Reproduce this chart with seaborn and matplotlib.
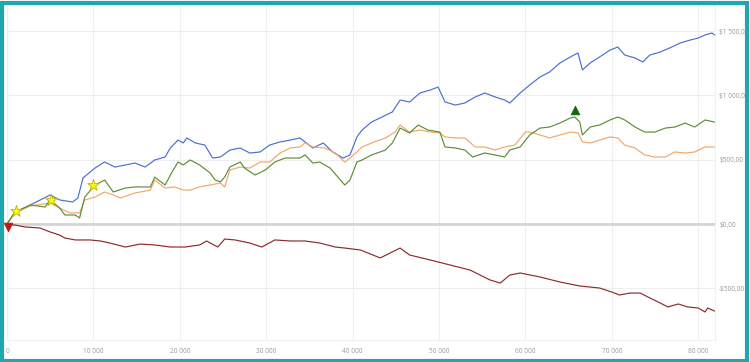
import matplotlib
matplotlib.use("Agg")
import matplotlib.pyplot as plt
import seaborn as sns
import pandas as pd
from matplotlib.patches import Rectangle
from matplotlib.ticker import FuncFormatter

# ---------------- data ----------------
blue_x = [0, 900, 2700, 5000, 6100, 7600, 8200, 8800, 10200, 11300, 12500, 13700, 14800, 16000,
          17100, 18300, 18900, 19800, 20400, 20800, 21800, 22900, 23800, 24700, 25800, 27000,
          28100, 29300, 30400, 31600, 32800, 33900, 34500, 35400, 36600, 37700, 38900, 39700,
          40500, 41100, 42200, 43400, 44600, 45500, 46600, 47800, 49000, 49900, 50700, 51900,
          53000, 54200, 55300, 56500, 57600, 58200, 59400, 60500, 61700, 62800, 64000, 65200,
          66100, 66600, 67500, 68600, 69800, 70700, 71500, 72700, 73600, 74400, 75600, 76700,
          77900, 79100, 80000, 80800, 81600, 81900]
blue_y = [0, 86, 148, 226, 187, 171, 202, 358, 436, 482, 443, 459, 474, 443,
          498, 521, 591, 653, 630, 669, 630, 614, 513, 521, 575, 591,
          552, 560, 614, 638, 653, 669, 638, 591, 630, 560, 513, 537,
          677, 731, 793, 832, 871, 964, 949, 1019, 1042, 1065, 949, 925,
          941, 988, 1019, 988, 964, 941, 1019, 1081, 1143, 1182, 1252, 1299,
          1330, 1198, 1252, 1299, 1353, 1376, 1314, 1291, 1260, 1314, 1337, 1369,
          1407, 1431, 1446, 1470, 1485, 1470]

green_x = [0, 900, 2700, 4400, 5000, 6100, 6700, 7900, 8400, 9000, 10200, 11300, 12300, 13700,
           14800, 16600, 17100, 18300, 19100, 19800, 20400, 21200, 22300, 23500, 24100, 24700,
           25200, 25800, 27000, 27500, 28700, 29900, 31000, 32200, 33900, 34500, 35400, 36200,
           37400, 38300, 39100, 39700, 40500, 41100, 42200, 43800, 44600, 45500, 46600, 47600,
           48700, 50100, 50700, 51900, 53000, 53900, 55300, 56500, 57600, 58200, 59400, 60500,
           61700, 62800, 64000, 65200, 65700, 66300, 66600, 67500, 68600, 69800, 70700, 71500,
           72700, 73800, 75000, 76200, 77300, 78500, 79600, 80800, 81900]
green_y = [0, 93, 148, 132, 187, 124, 70, 70, 47, 210, 303, 342, 249, 280,
           288, 288, 365, 303, 404, 482, 459, 498, 459, 397, 342, 327,
           365, 443, 482, 435, 381, 420, 482, 513, 513, 537, 474, 482,
           435, 365, 303, 342, 482, 498, 537, 575, 630, 746, 708, 770,
           731, 715, 599, 591, 575, 521, 552, 537, 521, 575, 599, 692,
           746, 754, 785, 824, 832, 793, 692, 754, 770, 809, 832, 809,
           754, 715, 715, 746, 754, 785, 754, 809, 793]

orange_x = [0, 900, 2700, 5000, 6100, 7300, 8400, 9000, 10200, 11300, 12300, 13100, 14800, 16600,
            17100, 18300, 19400, 20400, 21200, 22300, 23500, 24700, 25200, 25800, 27000, 28100,
            29300, 30400, 31600, 32800, 33900, 34500, 35400, 36800, 38000, 39100, 39700, 40500,
            41100, 42200, 43800, 44900, 45500, 46600, 47800, 49000, 50100, 50700, 51900, 53000,
            54200, 55300, 56500, 57600, 58800, 60000, 60500, 61700, 62800, 64000, 65200, 66100,
            66600, 67500, 68600, 69800, 70700, 71500, 72700, 73800, 75000, 76200, 77300, 78500,
            79600, 80800, 81900]
orange_y = [0, 86, 140, 163, 124, 86, 86, 187, 210, 249, 226, 202, 241, 264,
            342, 280, 288, 264, 264, 288, 303, 319, 288, 420, 443, 435,
            482, 482, 552, 591, 599, 630, 599, 591, 552, 482, 513, 560,
            599, 630, 669, 715, 770, 715, 731, 715, 708, 677, 669, 669,
            599, 599, 575, 599, 614, 715, 715, 692, 669, 692, 715, 708,
            638, 630, 653, 677, 669, 614, 591, 537, 521, 521, 560, 552,
            560, 599, 599]

red_x = [0, 900, 2100, 3800, 5000, 6100, 6700, 7900, 9600, 10800, 11900, 13700, 15400, 17100,
         18900, 20600, 22300, 23100, 24400, 25200, 26400, 28100, 29500, 31000, 32800, 34500,
         36200, 38000, 39100, 40900, 43200, 45500, 46600, 49000, 51300, 53600, 55900, 57100,
         58200, 59400, 61700, 64000, 66300, 68600, 70000, 70900, 72100, 73300, 74400, 75600,
         76500, 77700, 78800, 80000, 80800, 81100, 81900]
red_y = [0, -8, -23, -31, -62, -86, -109, -124, -124, -132, -148, -179, -156, -163,
         -179, -179, -163, -132, -179, -117, -124, -148, -179, -124, -132, -132,
         -148, -179, -187, -202, -264, -187, -241, -280, -319, -358, -435, -459,
         -397, -381, -412, -451, -482, -498, -529, -552, -537, -537, -575, -614,
         -645, -622, -645, -653, -684, -653, -677]

star_x = [1040, 5090, 9950]
star_y = [101, 187, 303]
up_x = [65700]
up_y = [886]
down_x = [100]
down_y = [-25]

x_ticks = [0, 10000, 20000, 30000, 40000, 50000, 60000, 70000, 80000]
y_ticks = [-500, 0, 500, 1000, 1500]

# ---------------- drawing ----------------
sns.set_style("white")
plt.rcParams['font.family'] = ['Open Sans', 'DejaVu Sans']

W, H = 750, 362
fig = plt.figure(figsize=(W / 100, H / 100), dpi=100)
fig.patch.set_facecolor("white")
ax = fig.add_axes([7 / W, 1 - 340 / H, (715 - 7) / W, (340 - 5) / H])
ax.set_facecolor("white")

lw = 0.85
ax.axhline(0, color="#d4d4d4", lw=2.0, zorder=1)

sns.lineplot(x=blue_x, y=blue_y, ax=ax, color="#4a6fd0", lw=lw, estimator=None, zorder=3)
sns.lineplot(x=orange_x, y=orange_y, ax=ax, color="#f0a868", lw=lw, estimator=None, zorder=3)
sns.lineplot(x=green_x, y=green_y, ax=ax, color="#5f8d36", lw=lw, estimator=None, zorder=4)
sns.lineplot(x=red_x, y=red_y, ax=ax, color="#8e2a2a", lw=lw, estimator=None, zorder=4)

sns.scatterplot(x=star_x, y=star_y, ax=ax, marker="*", s=75, color="#ffff00",
                edgecolor="#b5b500", linewidth=0.6, zorder=6)
sns.scatterplot(x=up_x, y=up_y, ax=ax, marker="^", s=40, color="#0b6b0b",
                edgecolor="#0b6b0b", linewidth=0.5, zorder=6)
sns.scatterplot(x=down_x, y=down_y, ax=ax, marker="v", s=40, color="#c01818",
                edgecolor="#c01818", linewidth=0.5, zorder=6, clip_on=False)

ax.set_xlim(0, 81950)
ax.set_ylim(-902, 1703)
ax.set_xticks(x_ticks)
ax.set_yticks(y_ticks)


def fmt_x(v, pos):
    v = int(round(v))
    return f"{v:,}".replace(",", " ")


def fmt_y(v, pos):
    v = int(round(v))
    s = f"{abs(v):,}".replace(",", " ") + ",00"
    return ("-$" if v < 0 else "$") + s


ax.xaxis.set_major_formatter(FuncFormatter(fmt_x))
ax.yaxis.set_major_formatter(FuncFormatter(fmt_y))
ax.yaxis.tick_right()
ax.tick_params(axis="both", length=0, labelsize=4.7, labelcolor="#9a9a9a")
ax.tick_params(axis="x", pad=6)
ax.tick_params(axis="y", pad=3)
ax.grid(True, color="#eeeeee", lw=0.8, zorder=0)
ax.set_axisbelow(True)
for sp in ax.spines.values():
    sp.set_color("#efefef")
    sp.set_linewidth(0.8)
ax.set_xlabel("")
ax.set_ylabel("")

# teal frame around the figure
fig.patches.append(Rectangle((1.5 / W, 1.5 / H), 1 - 3 / W - 1.5 / W, 1 - 3 / H - 1.5 / H,
                             transform=fig.transFigure, fill=False,
                             edgecolor="#1fa7ae", linewidth=3.0, zorder=0))

fig.savefig("out.png", dpi=100)
